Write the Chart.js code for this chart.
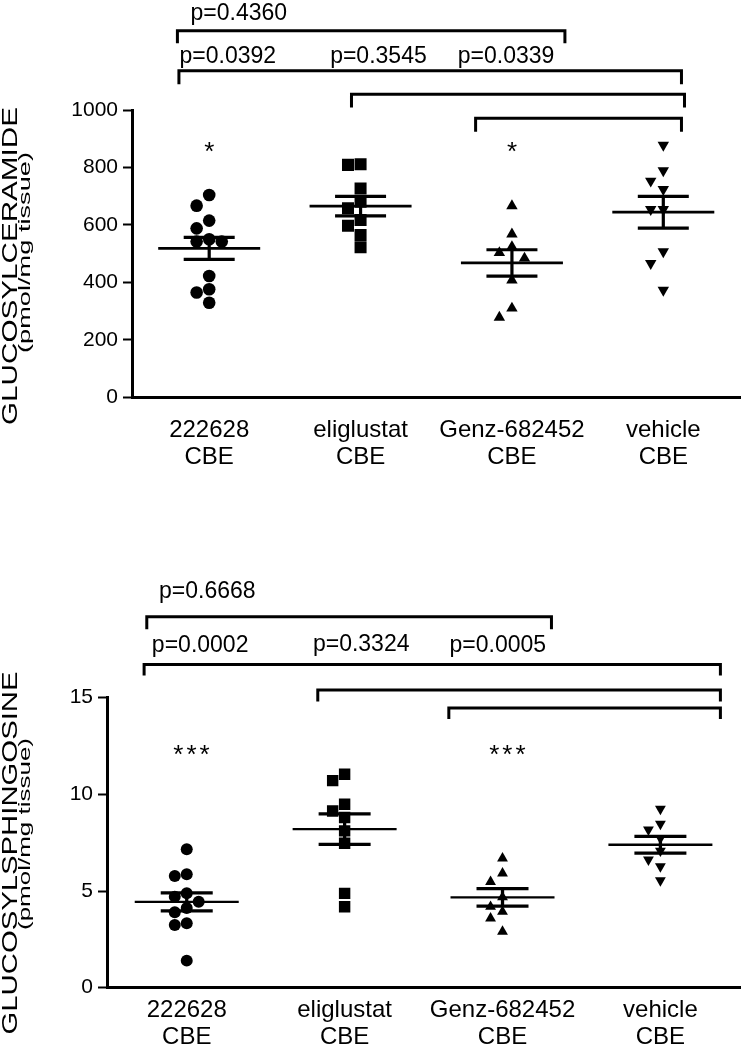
<!DOCTYPE html>
<html>
<head>
<meta charset="utf-8">
<title>Glucosylceramide and glucosylsphingosine</title>
<script src="https://cdn.jsdelivr.net/npm/chart.js@4.4.1/dist/chart.umd.min.js"></script>
<style>
  html, body { margin: 0; padding: 0; background: #fff; }
  .panel { position: absolute; left: 0; width: 749px; }
</style>
</head>
<body>
<div class="panel" style="top:0"><canvas id="cerChart" width="749" height="500"></canvas></div>
<div class="panel" style="top:520px"><canvas id="sphChart" width="749" height="530"></canvas></div>
<script>
// groups on the x axis (all CBE treated)
const groups = ['222628', 'eliglustat', 'Genz-682452', 'vehicle'];
const treatment = 'CBE';

// glucosylceramide, pmol/mg tissue
const cerTicks = [0, 200, 400, 600, 800, 1000];
const cer222628 = [704, 667, 615, 588, 550, 542, 542, 422, 376, 365, 329];
const cerEliglustat = [811, 809, 727, 681, 658, 617, 597, 565, 522];
const cerGenz = [666, 568, 524, 503, 484, 408, 310, 278];
const cerVehicle = [878, 789, 753, 724, 654, 654, 507, 466, 373];
const cerPValues = ['p=0.4360', 'p=0.0392', 'p=0.3545', 'p=0.0339'];
const cerStars = ['*', '', '*', ''];

// glucosylsphingosine, pmol/mg tissue
const sphTicks = [0, 5, 10, 15];
const sph222628 = [7.16, 5.87, 5.78, 4.88, 4.71, 4.45, 4.12, 3.90, 3.33, 3.24, 1.40];
const sphEliglustat = [11.04, 10.71, 9.49, 9.14, 8.80, 8.11, 7.47, 4.88, 4.19];
const sphGenz = [6.69, 5.92, 5.48, 4.68, 4.19, 3.93, 3.59, 2.90];
const sphVehicle = [9.25, 8.47, 8.17, 7.73, 7.08, 6.62, 6.27, 5.55];
const sphPValues = ['p=0.6668', 'p=0.0002', 'p=0.3324', 'p=0.0005'];
const sphStars = ['***', '', '***', ''];

const FONT = '"Liberation Sans", Arial, sans-serif';
Chart.defaults.font.family = FONT;
Chart.defaults.color = '#000';

// Prism style symbols
const markers = [
  { style: 'circle', radius: 6.3, rotation: 0 },
  { style: 'rect', radius: 8.5, rotation: 0 },
  { style: 'triangle', radius: 6.6, rotation: 0 },
  { style: 'triangle', radius: 6.6, rotation: 180 }
];

// spread points with close values sideways (simple beeswarm), result in x-axis units
function swarmOffsets(values, pxPerX, pxPerY, diameter) {
  const order = values.map((v, i) => i).sort((a, b) => values[b] - values[a]);
  const placed = [];
  const offsets = values.map(() => 0);
  order.forEach(i => {
    const py = values[i] * pxPerY;
    for (let k = 0; k < 20; k++) {
      const slot = k === 0 ? 0 : (k % 2 ? -Math.ceil(k / 2) : k / 2);
      const px = slot * diameter;
      const hit = placed.some(p => (p.x - px) ** 2 + (p.y - py) ** 2 < (diameter * 0.95) ** 2);
      if (!hit) {
        placed.push({ x: px, y: py });
        offsets[i] = px / pxPerX;
        break;
      }
    }
  });
  return offsets;
}

function strokeLine(ctx, x1, y1, x2, y2) {
  ctx.beginPath();
  ctx.moveTo(x1, y1);
  ctx.lineTo(x2, y2);
  ctx.stroke();
}

// mean +/- SEM bars, comparison brackets, p values, stars and the two-line y title
const prismExtras = {
  id: 'prismExtras',
  afterDatasetsDraw(chart, args, o) {
    const { ctx } = chart;
    const x = chart.scales.x, y = chart.scales.y;
    ctx.save();
    ctx.strokeStyle = '#000';
    ctx.fillStyle = '#000';
    ctx.lineCap = 'butt';

    o.series.forEach((vals, i) => {
      const n = vals.length;
      const m = vals.reduce((a, b) => a + b, 0) / n;
      const sd = Math.sqrt(vals.reduce((a, v) => a + (v - m) ** 2, 0) / (n - 1));
      const se = sd / Math.sqrt(n);
      const cx = x.getPixelForValue(i + 1);
      const ym = y.getPixelForValue(m);
      const yt = y.getPixelForValue(m + se);
      const yb = y.getPixelForValue(m - se);
      ctx.lineWidth = o.meanWidth;
      strokeLine(ctx, cx - o.meanHalf, ym, cx + o.meanHalf, ym);
      ctx.lineWidth = o.semWidth;
      strokeLine(ctx, cx, yt, cx, yb);
      strokeLine(ctx, cx - o.capHalf, yt, cx + o.capHalf, yt);
      strokeLine(ctx, cx - o.capHalf, yb, cx + o.capHalf, yb);
    });

    // brackets: [from, to, bar level, leg end] in axis units
    ctx.lineWidth = 3;
    ctx.lineJoin = 'miter';
    o.brackets.forEach(b => {
      const x1 = x.getPixelForValue(b[0]), x2 = x.getPixelForValue(b[1]);
      const yBar = y.getPixelForValue(b[2]), yLeg = y.getPixelForValue(b[3]);
      ctx.beginPath();
      ctx.moveTo(x1, yLeg);
      ctx.lineTo(x1, yBar);
      ctx.lineTo(x2, yBar);
      ctx.lineTo(x2, yLeg);
      ctx.stroke();
    });

    ctx.textAlign = 'center';
    ctx.textBaseline = 'alphabetic';
    ctx.font = `${o.pSize}px ${FONT}`;
    o.pValues.forEach((t, i) => {
      const p = o.pPos[i];
      ctx.fillText(t, x.getPixelForValue(p[0]), y.getPixelForValue(p[1]));
    });

    ctx.font = `${o.starSize}px ${FONT}`;
    ctx.letterSpacing = o.starGap;
    o.stars.forEach((s, i) => {
      if (!s) return;
      const mt = ctx.measureText(s);
      const cx = x.getPixelForValue(i + 1 + o.starShift);
      const cy = y.getPixelForValue(o.starY);
      ctx.fillText(s, cx, cy + (mt.actualBoundingBoxAscent - mt.actualBoundingBoxDescent) / 2);
    });
    ctx.letterSpacing = '0px';

    // rotated title lines, stretched along the text to the length seen in the figure
    o.titles.forEach(t => {
      ctx.font = `${t.size}px ${FONT}`;
      const w = ctx.measureText(t.text).width;
      ctx.save();
      ctx.translate(t.x, t.cy);
      ctx.rotate(-Math.PI / 2);
      ctx.scale(t.len / w, 1);
      ctx.fillText(t.text, 0, 0);
      ctx.restore();
    });
    ctx.restore();
  }
};

function makeChart(id, series, L, extras) {
  const pxPerX = (749 - L.axisLeft - L.padRight) / (L.xMax - L.xMin);
  const pxPerY = (L.plotBottom - L.plotTop) / L.yMax;
  const datasets = series.map((vals, i) => {
    const mk = markers[i];
    const off = swarmOffsets(vals, pxPerX, pxPerY, L.symbol);
    return {
      label: groups[i],
      data: vals.map((v, j) => ({ x: i + 1 + off[j], y: v })),
      pointStyle: mk.style,
      pointRotation: mk.rotation,
      pointRadius: mk.radius * L.symbolScale,
      pointBackgroundColor: '#000',
      pointBorderWidth: 0,
      backgroundColor: '#000',
      borderWidth: 0
    };
  });

  return new Chart(document.getElementById(id), {
    type: 'scatter',
    data: { datasets },
    options: {
      responsive: false,
      animation: false,
      events: [],
      layout: { padding: { top: L.plotTop, right: L.padRight, bottom: 0, left: 0 } },
      plugins: {
        legend: { display: false },
        tooltip: { enabled: false },
        prismExtras: Object.assign({ series }, extras)
      },
      scales: {
        x: {
          type: 'linear',
          min: L.xMin,
          max: L.xMax,
          afterBuildTicks: s => { s.ticks = groups.map((g, i) => ({ value: i + 1 })); },
          afterFit: s => { s.height = L.height - L.plotBottom; },
          grid: { display: false },
          border: { display: true, color: '#000', width: 3 },
          ticks: {
            callback: v => [groups[v - 1], treatment],
            font: { size: 24, lineHeight: 1.12 },
            padding: L.labelPad,
            maxRotation: 0,
            autoSkip: false
          }
        },
        y: {
          min: 0,
          max: L.yMax,
          afterBuildTicks: s => { s.ticks = L.ticks.map(v => ({ value: v })); },
          afterFit: s => { s.width = L.axisLeft; },
          grid: { drawOnChartArea: false, color: '#000', tickLength: 9, tickWidth: 2 },
          border: { color: '#000', width: 3 },
          ticks: { callback: v => String(v), font: { size: 21 }, padding: 5 }
        }
      }
    },
    plugins: [prismExtras]
  });
}

makeChart('cerChart', [cer222628, cerEliglustat, cerGenz, cerVehicle], {
  height: 500, plotTop: 110, plotBottom: 397.3, axisLeft: 132, padRight: 2,
  xMin: 0.49, xMax: 4.51, yMax: 1000, ticks: cerTicks, labelPad: 12,
  symbol: 12.7, symbolScale: 1
}, {
  meanHalf: 51, capHalf: 25.5, meanWidth: 2.7, semWidth: 3.2,
  brackets: [[0.79, 3.35, 1276, 1232], [0.80, 4.12, 1137, 1090], [1.94, 4.14, 1055, 1009], [2.76, 4.12, 971, 924]],
  pValues: cerPValues,
  pPos: [[1.196, 1313], [1.123, 1163], [2.118, 1163], [2.961, 1163]],
  pSize: 23,
  stars: cerStars, starY: 871, starShift: 0, starSize: 26, starGap: '0px',
  titles: [
    { text: 'GLUCOSYLCERAMIDE', x: 16.5, cy: 266, len: 318, size: 22 },
    { text: '(pmol/mg tissue)', x: 30, cy: 252.5, len: 201, size: 17 }
  ]
});

makeChart('sphChart', [sph222628, sphEliglustat, sphGenz, sphVehicle], {
  height: 530, plotTop: 177.7, plotBottom: 467.7, axisLeft: 107, padRight: 6,
  xMin: 0.495, xMax: 4.51, yMax: 15, ticks: sphTicks, labelPad: 1,
  symbol: 12, symbolScale: 0.95
}, {
  meanHalf: 52, capHalf: 26, meanWidth: 2.4, semWidth: 3.3,
  brackets: [[0.747, 3.31, 19.19, 18.54], [0.73, 4.38, 16.72, 16.15], [1.83, 4.38, 15.40, 14.80], [2.66, 4.38, 14.47, 13.90]],
  pValues: sphPValues,
  pPos: [[1.13, 20.14], [1.085, 17.38], [2.105, 17.4], [2.97, 17.38]],
  pSize: 23,
  stars: sphStars, starY: 12.3, starShift: 0.04, starSize: 26, starGap: '3px',
  titles: [
    { text: 'GLUCOSYLSPHINGOSINE', x: 16.5, cy: 333, len: 363, size: 22 },
    { text: '(pmol/mg tissue)', x: 30, cy: 314, len: 192, size: 17 }
  ]
});
</script>
</body>
</html>
